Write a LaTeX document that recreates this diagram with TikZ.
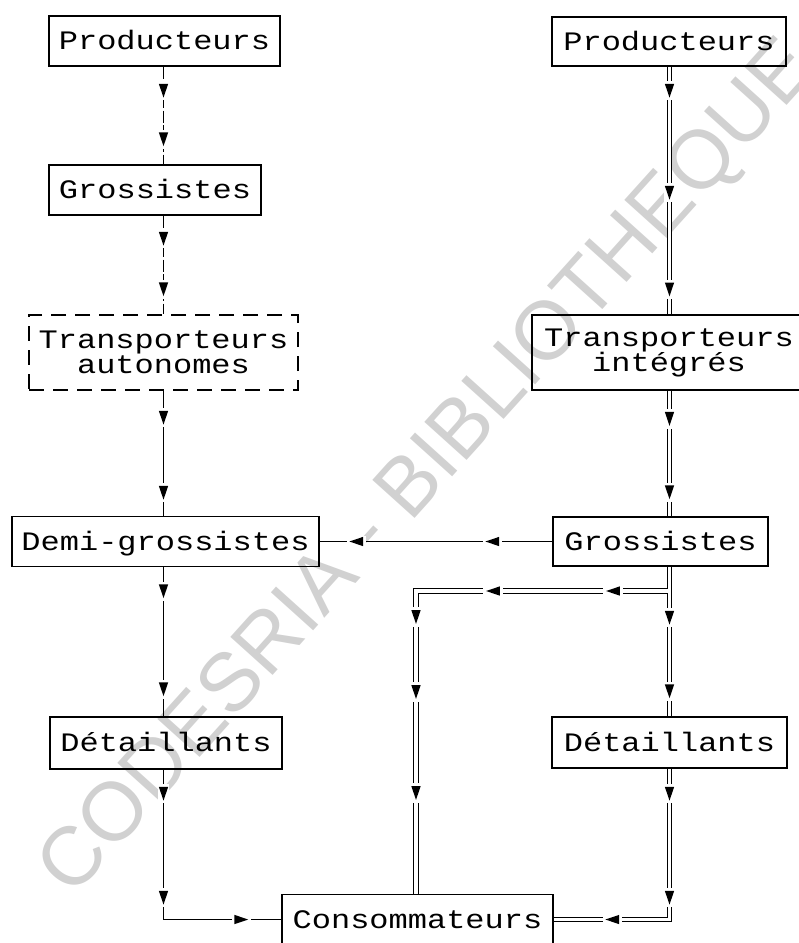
\documentclass[tikz,border=0pt]{standalone}
\usepackage{fontspec}
\newfontfamily\boxfont{Liberation Mono}[FakeStretch=1.2]
\newfontfamily\wmfont{Liberation Sans}
\usetikzlibrary{decorations.markings,backgrounds}
\newcommand\arrowtri{\fill[white] (-7.2pt,-3.9pt) rectangle (7.2pt,3.9pt);\fill[black] (5.2pt,0pt) -- (-5.2pt,3.5pt) -- (-5.2pt,-3.5pt) -- cycle;}
\lineskiplimit=-30pt
\tikzset{
 box/.style={draw, line width=1.1pt, inner sep=0pt, font=\boxfont\fontsize{20}{18.75}\selectfont, align=center},
 oneline/.style={text height=16pt, text depth=2.8pt},
 wh/.style 2 args={minimum width=#1*0.75pt, minimum height=#2*0.75pt},
 conn/.style={draw, line width=1pt},
 dbl/.style={draw, line width=0.9pt, double=white, double distance=2.6pt},
 dsh/.style={dash pattern=on 9pt off 2pt},
 am/.style={postaction={decorate, decoration={markings, mark=at position #1*0.75pt with {\arrowtri}}}},
 watermark/.style={text=black!18, font=\wmfont\fontsize{62}{62}\selectfont, rotate=48, inner sep=0pt}
}
\begin{document}
\begin{tikzpicture}[x=0.75pt,y=-0.75pt]
\useasboundingbox (0,0) rectangle (799,943);
% boxes
\node[box, oneline, wh={231}{50}] (pl) at (164.5,41) {Producteurs};
\node[box, oneline, wh={212}{50}] (gl) at (155,190) {Grossistes};
\node[box, wh={269}{75}, dash pattern=on 11pt off 7pt] (ta) at (163.5,352.5) {Transporteurs\\autonomes};
\node[box, oneline, wh={307}{50}] (dg) at (165.5,541.5) {Demi-grossistes};
\node[box, oneline, wh={232}{52}] (dl) at (166,743) {Détaillants};
\node[box, oneline, wh={271}{50}] (cons) at (417.5,919.5) {Consommateurs};
\node[box, oneline, wh={234}{49}] (pr) at (669,41.5) {Producteurs};
\node[box, wh={274}{75}, yshift=-2pt] (ti) at (669,350) {Transporteurs\\intégrés};
\node[box, oneline, wh={215}{49}] (gr) at (660.5,541.5) {Grossistes};
\node[box, oneline, wh={235}{51}] (dr) at (669.5,742.5) {Détaillants};
\coordinate (lx) at (163.5,0);
\coordinate (rx) at (669.5,0);
\coordinate (jn) at (667.8,591);
\coordinate (bk) at (416,591);
\begin{scope}[on background layer]
\node[watermark] (wm) at (430,470) {CODESRIA - BIBLIOTHEQUE};
% left chain
\draw[conn, dsh, am=24, am=-25] (lx|-pl.south) -- (lx|-gl.north);
\draw[conn, dsh, am=23, am=-25] (lx|-gl.south) -- (lx|-ta.north);
\draw[conn, am=27, am=-23] (lx|-ta.south) -- (lx|-dg.north);
\draw[conn, am=24, am=-27] (lx|-dg.south) -- (lx|-dl.north);
\draw[conn, am=24, am=128, am=-40] (lx|-dl.south) -- (lx|-cons.west) -- (cons.west);
% right chain
\draw[dbl, am=24, am=126, am=-25] (rx|-pr.south) -- (rx|-ti.north);
\draw[dbl, am=28, am=-24] (rx|-ti.south) -- (rx|-gr.north);
\draw[dbl, am=51, am=-25] (rx|-gr.south) -- (rx|-dr.north);
\draw[dbl, am=54.8, am=174.8, am=277.8, am=352.8, am=453.8] (jn) -- (bk) -- (bk|-cons.north);
\draw[dbl, am=25, am=129, am=208] (rx|-dr.south) -- (rx|-cons.east) -- (cons.east);
\draw[conn, am=60, am=196] (gr.west) -- (gr.west-|dg.east);
\end{scope}
\end{tikzpicture}
\end{document}
